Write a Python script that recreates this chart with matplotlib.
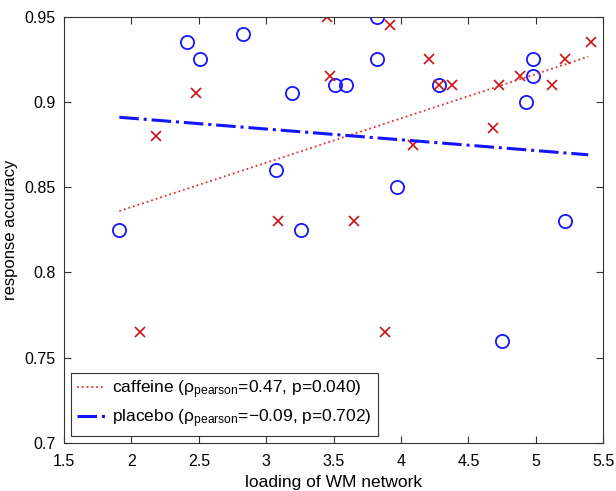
import numpy as np
import matplotlib.pyplot as plt

plt.rcParams['font.family'] = ['Liberation Sans', 'DejaVu Sans']
plt.rcParams['mathtext.fontset'] = 'custom'
plt.rcParams['mathtext.rm'] = 'Liberation Sans'
plt.rcParams['mathtext.it'] = 'Liberation Sans:italic'

# placebo (blue circles)
placebo_x = [1.91, 2.41, 2.51, 2.83, 3.19, 3.07, 3.26, 3.82, 3.82, 3.51, 3.59,
             3.97, 4.28, 4.93, 4.98, 4.98, 4.75, 5.22]
placebo_y = [0.825, 0.935, 0.925, 0.94, 0.905, 0.86, 0.825, 0.95, 0.925, 0.91, 0.91,
             0.85, 0.91, 0.90, 0.925, 0.915, 0.76, 0.83]

# caffeine (red crosses)
caffeine_x = [2.18, 2.48, 2.06, 3.09, 3.45, 3.47, 3.92, 3.65, 3.88, 4.21, 4.09,
              4.28, 4.38, 4.68, 4.73, 4.88, 5.12, 5.22, 5.41]
caffeine_y = [0.88, 0.905, 0.765, 0.83, 0.95, 0.915, 0.945, 0.83, 0.765, 0.925, 0.875,
              0.91, 0.91, 0.885, 0.91, 0.915, 0.91, 0.925, 0.935]

# fitted lines (endpoints)
fit_x = [1.91, 5.39]
caffeine_fit = [0.836, 0.9265]
placebo_fit = [0.891, 0.869]

fig = plt.figure(figsize=(6.16, 4.91), dpi=100)
ax = fig.add_axes([0.104, 0.098, 0.875, 0.868])

ax.plot(placebo_x, placebo_y, 'o', mfc='none', mec='#1414ff', ms=9.5, mew=1.3)
ax.plot(caffeine_x, caffeine_y, 'x', color='#cc1111', ms=6.5, mew=1.2)

ax.plot(fit_x, caffeine_fit, ':', color='#e03030', lw=1.3,
        label='caffeine (ρ$_{\\mathrm{pearson}}$=0.47, p=0.040)')
ax.plot(fit_x, placebo_fit, '-.', color='#1414ff', lw=2.2,
        label='placebo (ρ$_{\\mathrm{pearson}}$=\u22120.09, p=0.702)')

ax.set_xlim(1.5, 5.5)
ax.set_ylim(0.7, 0.95)
ax.set_xticks([1.5, 2, 2.5, 3, 3.5, 4, 4.5, 5, 5.5])
ax.set_xticklabels(['1.5', '2', '2.5', '3', '3.5', '4', '4.5', '5', '5.5'])
ax.set_yticks([0.7, 0.75, 0.8, 0.85, 0.9, 0.95])
ax.set_yticklabels(['0.7', '0.75', '0.8', '0.85', '0.9', '0.95'])
ax.tick_params(direction='in', top=True, right=True, length=5, labelsize=11.5,
               color='#333333')
ax.tick_params(axis='x', pad=8)
ax.tick_params(axis='y', pad=6)
for s in ax.spines.values():
    s.set_color('#333333')

ax.set_xlabel('loading of WM network', fontsize=12.5, labelpad=4)
ax.set_ylabel('response accuracy', fontsize=12, labelpad=5)

leg = ax.legend(loc='lower left', fontsize=12.5, fancybox=False, framealpha=1,
                edgecolor='#333333', handlelength=1.6, handletextpad=0.4,
                borderaxespad=0.4, borderpad=0.35, labelspacing=0.35)
leg.get_frame().set_linewidth(0.8)

fig.savefig('out.png', dpi=100)
